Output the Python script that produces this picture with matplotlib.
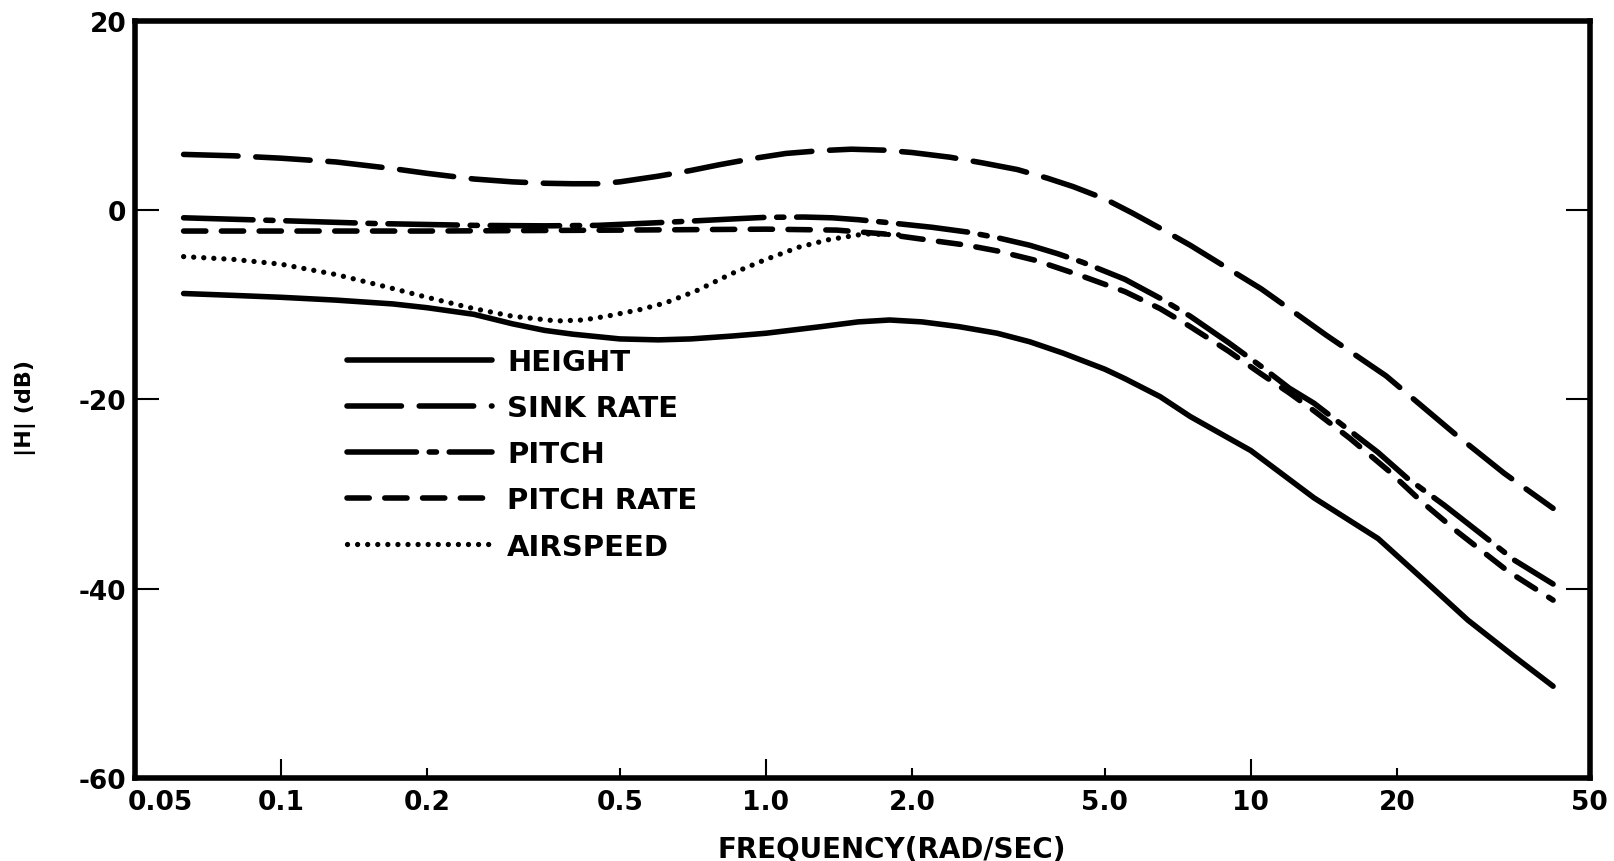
import matplotlib
matplotlib.use('Agg')
import matplotlib.pyplot as plt
from matplotlib.ticker import FixedLocator, NullLocator, FixedFormatter
from matplotlib.transforms import ScaledTranslation

# Frequency response data (rad/sec, dB)
height_f = [0.063, 0.08, 0.1, 0.13, 0.17, 0.2, 0.25, 0.3, 0.35, 0.4, 0.5, 0.6, 0.7,
            0.85, 1.0, 1.3, 1.55, 1.8, 2.1, 2.5, 3.0, 3.5, 4.1, 5.0, 5.5, 6.5, 7.5,
            10, 13.5, 18.3, 23, 28, 35, 42]
height_db = [-8.8, -9.0, -9.2, -9.5, -9.9, -10.3, -11.0, -12.0, -12.7, -13.1, -13.6,
             -13.7, -13.6, -13.3, -13.0, -12.3, -11.8, -11.6, -11.8, -12.3, -13.0,
             -13.9, -15.1, -16.8, -17.8, -19.7, -21.8, -25.4, -30.4, -34.7, -39.3,
             -43.3, -47.2, -50.3]

sink_f = [0.063, 0.08, 0.1, 0.13, 0.17, 0.2, 0.25, 0.3, 0.35, 0.4, 0.45, 0.5, 0.6,
          0.7, 0.8, 0.95, 1.1, 1.3, 1.5, 1.75, 2.0, 2.4, 2.8, 3.3, 3.8, 4.3, 5.0,
          5.7, 6.5, 7.5, 9, 10.5, 12.3, 14.3, 19, 26.3, 33.3, 42]
sink_db = [5.9, 5.75, 5.5, 5.1, 4.4, 3.9, 3.3, 3.0, 2.85, 2.8, 2.8, 3.0, 3.6, 4.2,
           4.8, 5.5, 6.0, 6.3, 6.45, 6.35, 6.1, 5.6, 5.0, 4.3, 3.4, 2.5, 1.2, -0.3,
           -1.9, -3.7, -6.2, -8.3, -10.8, -13.2, -17.5, -23.6, -27.8, -31.5]

pitch_f = [0.063, 0.1, 0.155, 0.25, 0.35, 0.45, 0.58, 0.73, 0.87, 1.0, 1.2, 1.37,
           1.55, 1.74, 2.2, 2.6, 3.0, 3.5, 4.0, 4.5, 5.5, 6.5, 7.5, 9, 10.5, 12,
           13.5, 16, 18.3, 21, 25.1, 30, 35, 42]
pitch_db = [-0.8, -1.1, -1.4, -1.6, -1.65, -1.6, -1.35, -1.1, -0.9, -0.75, -0.72,
            -0.8, -1.0, -1.25, -1.8, -2.3, -2.9, -3.7, -4.6, -5.5, -7.3, -9.3, -11.2,
            -14.0, -16.5, -18.8, -20.4, -23.3, -25.6, -28.3, -31.2, -34.3, -37.0,
            -39.5]

prate_f = [0.063, 0.2, 0.5, 1.0, 1.4, 1.75, 2.2, 2.6, 3.0, 3.6, 4.4, 5.5, 6.5, 7.5,
           9, 10.5, 12, 13.5, 16, 19.2, 22.5, 26.7, 34, 42]
prate_db = [-2.2, -2.2, -2.1, -2.0, -2.1, -2.5, -3.2, -3.7, -4.3, -5.3, -6.8, -8.6,
            -10.4, -12.3, -14.9, -17.3, -19.3, -21.2, -24.1, -27.5, -30.8, -34.0,
            -38.2, -41.2]

air_f = [0.063, 0.08, 0.1, 0.13, 0.165, 0.2, 0.25, 0.3, 0.37, 0.42, 0.47, 0.55, 0.62,
         0.72, 0.85, 1.0, 1.17, 1.35, 1.6, 1.9]
air_db = [-4.9, -5.2, -5.7, -6.8, -8.1, -9.2, -10.4, -11.2, -11.7, -11.6, -11.2,
          -10.5, -9.8, -8.5, -6.7, -5.2, -3.9, -3.1, -2.5, -2.6]

xtick_vals = [0.05, 0.1, 0.2, 0.5, 1.0, 2.0, 5.0, 10, 20, 50]
xtick_labels = ['0.05', '0.1', '0.2', '0.5', '1.0', '2.0', '5.0', '10', '20', '50']
ytick_vals = [20, 0, -20, -40, -60]

plt.rcParams['font.family'] = ['DejaVu Sans']
plt.rcParams['font.weight'] = 'bold'

fig = plt.figure(figsize=(16.14, 8.62), dpi=100)
ax = fig.add_axes([0.0836, 0.0963, 0.9014, 0.8782])

lw = 4
kw = dict(color='black', lw=lw, dash_capstyle='round', solid_capstyle='round')
ax.plot(height_f, height_db, ls='-', label='HEIGHT', **kw)
ax.plot(sink_f, sink_db, ls=(0, (9.8, 3.2)), label='SINK RATE', **kw)
ax.plot(pitch_f, pitch_db, ls=(0, (12.5, 2.3, 1.3, 2.3)), label='PITCH', **kw)
ax.plot(prate_f, prate_db, ls=(0, (4.0, 2.8)), label='PITCH RATE', **kw)
ax.plot(air_f, air_db, ls=(0, (0.01, 1.9)), label='AIRSPEED', color='black',
        lw=lw * 0.95, dash_capstyle='round')

ax.set_xscale('log')
ax.set_xlim(0.05, 50)
ax.set_ylim(-60, 20)

ax.xaxis.set_major_locator(FixedLocator(xtick_vals))
ax.xaxis.set_major_formatter(FixedFormatter(xtick_labels))
ax.xaxis.set_minor_locator(NullLocator())
ax.set_yticks(ytick_vals)
ax.set_yticklabels([str(v) for v in ytick_vals])

for s in ax.spines.values():
    s.set_linewidth(4)

ax.tick_params(axis='x', direction='in', length=7, width=1.5, labelsize=19, pad=8)
ax.tick_params(axis='y', direction='in', length=17, width=1.5, labelsize=19, pad=6,
               right=True)

# longer ticks at decades, none on the spines
for t, v in zip(ax.xaxis.get_major_ticks(), xtick_vals):
    if v in (0.1, 1.0, 10):
        t.tick1line.set_markersize(14)
    if v in (0.05, 50):
        t.tick1line.set_markersize(0)

# shift the first x label right to clear the -60 label
lab0 = ax.get_xticklabels()[0]
lab0.set_transform(lab0.get_transform() + ScaledTranslation(0.25, 0, fig.dpi_scale_trans))

ax.set_xlabel('FREQUENCY(RAD/SEC)', fontsize=20, fontweight='bold')
ax.xaxis.set_label_coords(0.52, -0.075)
ax.set_ylabel('|H| (dB)', fontsize=16, fontweight='bold')
ax.yaxis.set_label_coords(-0.068, 0.49)

ax.legend(loc='upper left', bbox_to_anchor=(0.1355, 0.587), frameon=False,
          handlelength=5.0, handletextpad=0.5, labelspacing=0.62, borderpad=0,
          prop={'size': 21, 'weight': 'bold'})

fig.savefig('out.png', dpi=100)
